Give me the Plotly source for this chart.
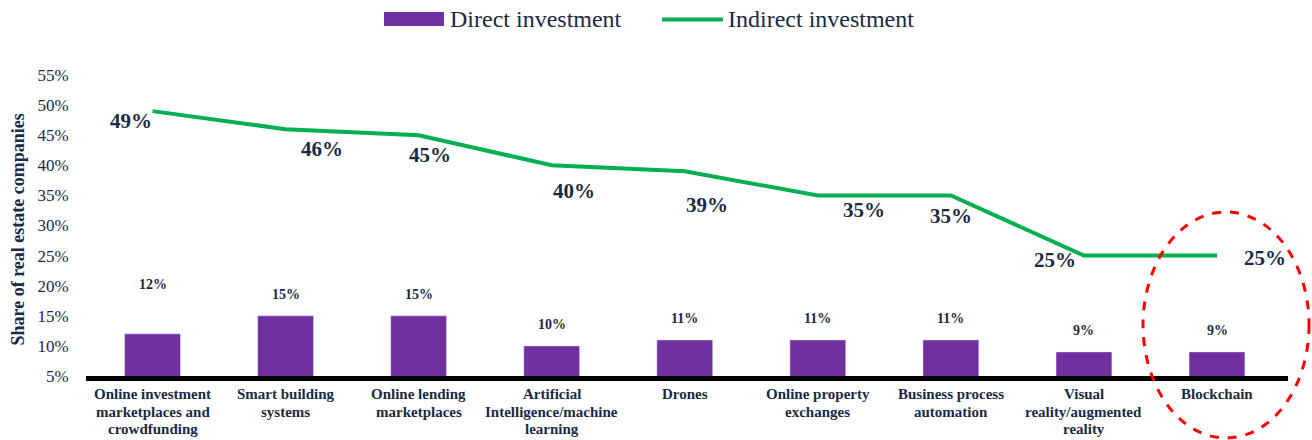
import plotly.graph_objects as go

categories = [
    "Online investment<br>marketplaces and<br>crowdfunding",
    "Smart building<br>systems",
    "Online lending<br>marketplaces",
    "Artificial<br>Intelligence/machine<br>learning",
    "Drones",
    "Online property<br>exchanges",
    "Business process<br>automation",
    "Visual<br>reality/augmented<br>reality",
    "Blockchain",
]
direct = [12, 15, 15, 10, 11, 11, 11, 9, 9]
indirect = [49, 46, 45, 40, 39, 35, 35, 25, 25]

# label offsets (pixels): style only
line_label_dx = [-22, 36, 11, 22, 22, 46, 0, -29, 48]
line_label_dy = [-10, -20, -20, -26, -34, -15, -21, -4, -2]
bar_label_dy = [49, 21, 21, 21, 21, 21, 21, 21, 21]

SERIF = "Liberation Serif"
TXT = "#1b2a41"
PURPLE = "#7030a0"
GREEN = "#00b050"

fig = go.Figure()
fig.add_trace(go.Bar(x=categories, y=direct, marker_color=PURPLE, name="Direct investment"))
fig.add_trace(go.Scatter(x=categories, y=indirect, mode="lines", line=dict(color=GREEN, width=4),
                         name="Indirect investment"))

ann = []
for c, v, dx, dy in zip(categories, indirect, line_label_dx, line_label_dy):
    ann.append(dict(x=c, y=v, xref="x", yref="y", text=f"<b>{v}%</b>", showarrow=False,
                    xshift=dx, yshift=dy, font=dict(family=SERIF, size=21, color=TXT)))
for c, v, dy in zip(categories, direct, bar_label_dy):
    ann.append(dict(x=c, y=v, xref="x", yref="y", text=f"<b>{v}%</b>", showarrow=False,
                    yshift=dy, font=dict(family=SERIF, size=14, color=TXT)))

# category labels, one annotation per line for tight line spacing
for c in categories:
    for i, part in enumerate(c.split("<br>")):
        ann.append(dict(x=c, y=0, xref="x", yref="paper", yanchor="middle",
                        text=f"<b>{part}</b>", showarrow=False, yshift=-(18 + 17.5 * i),
                        font=dict(family=SERIF, size=15, color=TXT)))

# y-axis title
ann.append(dict(x=-0.0566, y=0.5, xref="paper", yref="paper", xanchor="center", yanchor="middle",
                textangle=-90, text="<b>Share of real estate companies</b>", showarrow=False,
                yshift=-4, font=dict(family=SERIF, size=18, color=TXT)))

# custom legend
ann.append(dict(x=0.3010, y=1.1844, xref="paper", yref="paper", xanchor="left", yanchor="middle",
                text="Direct investment", showarrow=False, font=dict(family=SERIF, size=24, color=TXT)))
ann.append(dict(x=0.5323, y=1.1844, xref="paper", yref="paper", xanchor="left", yanchor="middle",
                text="Indirect investment", showarrow=False, font=dict(family=SERIF, size=24, color=TXT)))

shapes = [
    dict(type="rect", xref="paper", yref="paper", x0=0.2479, x1=0.2978, y0=1.1628, y1=1.2093,
         fillcolor=PURPLE, line=dict(width=0)),
    dict(type="line", xref="paper", yref="paper", x0=0.4792, x1=0.5300, y0=1.1844, y1=1.1844,
         line=dict(color=GREEN, width=4)),
    dict(type="circle", xref="paper", yref="paper", x0=0.8794, x1=1.0175, y0=-0.206, y1=0.545,
         line=dict(color="#ff0000", width=3, dash="dash")),
]

fig.update_layout(
    width=1312, height=440,
    margin=dict(l=86, r=24, t=75, b=64),
    plot_bgcolor="white", paper_bgcolor="white",
    showlegend=False,
    bargap=0.58,
    annotations=ann, shapes=shapes,
    font=dict(family=SERIF, color=TXT),
)
fig.update_xaxes(showline=True, linecolor="black", linewidth=5, showgrid=False,
                 showticklabels=False, automargin=False)
fig.update_yaxes(range=[5, 55], dtick=5, ticksuffix="%", showgrid=False, zeroline=False,
                 showline=False, automargin=False,
                 tickfont=dict(family=SERIF, size=17, color=TXT),
                 ticks="outside", ticklen=13, tickcolor="rgba(0,0,0,0)")

fig.write_html("out.html", config={"displayModeBar": False},
               post_script="document.body.style.margin='0';")
